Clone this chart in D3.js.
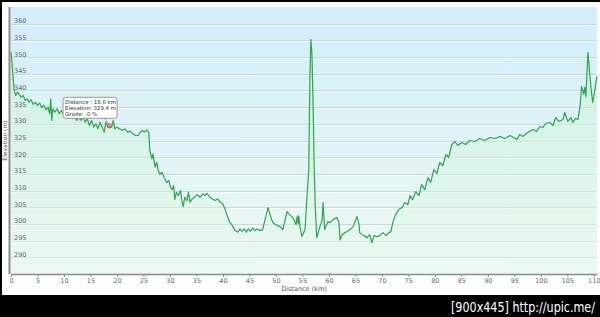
<!DOCTYPE html>
<html>
<head>
<meta charset="utf-8">
<style>
  body { margin: 0; background: #000; }
  svg { display: block; }
</style>
</head>
<body>
<svg width="600" height="317"></svg>
<script src="https://cdn.jsdelivr.net/npm/d3@7"></script>
<script>
// distance along route (km) and elevation (m)
var distKm = [0, 0.3, 0.6, 0.9, 1.2, 1.5, 1.9, 2.3, 2.7, 3.0, 3.4, 3.8, 4.2, 4.6, 5.0, 5.4, 5.8, 6.2, 6.6, 7.0,
  7.3, 7.5, 7.7, 7.9, 8.3, 8.7, 9.1, 9.5, 10.0, 10.4, 10.8, 11.2, 11.6, 12.0, 12.4, 12.8, 13.2, 13.6, 14.0, 14.4,
  14.8, 15.2, 15.6, 16.0, 16.4, 16.8, 17.2, 17.6, 17.9, 18.3, 18.6, 19.0, 19.3, 19.6, 20.0, 20.5, 21.0, 21.5, 22.0, 22.5,
  23.0, 23.5, 24.0, 24.4, 24.8, 25.2, 25.6, 26.0, 26.2, 26.6, 26.8, 27.2, 27.5, 27.8, 28.1, 28.5, 28.9, 29.4, 29.8, 30.1,
  30.4, 30.7, 30.9, 31.2, 31.6, 32.0, 32.3, 32.5, 32.8, 33.2, 33.5, 33.8, 34.2, 34.6, 35.1, 35.7, 36.2, 36.6, 37.0, 37.5,
  38.0, 38.5, 39.0, 39.5, 40.0, 40.5, 40.9, 41.3, 41.8, 42.3, 42.8, 43.2, 43.6, 44.0, 44.4, 44.8, 45.2, 45.6, 46.0, 46.5,
  47.0, 47.5, 48.5, 48.9, 49.4, 50.2, 50.8, 51.3, 52.1, 52.6, 53.2, 53.8, 54.0, 54.2, 54.3, 54.5, 54.9, 55.5, 55.8, 56.2,
  56.4, 56.6, 56.8, 57.0, 57.2, 57.4, 57.7, 58.3, 58.7, 58.9, 59.2, 59.8, 60.2, 60.8, 61.5, 61.9, 62.1, 62.6, 63.4, 64.0,
  64.6, 65.1, 65.3, 65.7, 65.8, 66.6, 67.2, 67.7, 68.1, 68.5, 69.1, 69.6, 70.2, 70.8, 71.3, 71.7, 72.1, 72.6, 73.2, 73.8,
  74.3, 74.9, 75.3, 75.8, 76.4, 77.0, 77.5, 78.1, 78.7, 79.2, 79.8, 80.4, 80.9, 81.5, 82.1, 82.6, 83.2, 83.8, 84.3, 85.1,
  85.8, 86.6, 87.5, 88.5, 89.4, 90.4, 91.3, 92.3, 93.2, 94.2, 95.5, 96.0, 96.6, 97.5, 98.5, 99.2, 99.8, 100.4, 100.9, 101.7,
  102.3, 102.8, 103.4, 104.2, 104.5, 105.1, 105.7, 106.0, 106.6, 107.0, 107.4, 107.7, 108.1, 108.3, 108.5, 108.9, 109.2, 109.6, 109.8, 110.2,
  110.6];
var elevM = [351.5, 346, 340, 338.5, 339.5, 339, 338, 338.5, 337, 337.5, 336.5, 337.2, 335.8, 336.5, 335.5, 336.2, 334.8, 335.6, 334.2, 335,
  333, 337.5, 331, 334.5, 333.5, 334.5, 333, 334, 332.5, 333.5, 332, 333, 331.5, 332.5, 331, 332, 331, 332, 330.5, 331.5,
  329.5, 331, 329, 330, 328.5, 330.5, 329, 327.5, 330.5, 329, 329.4, 329, 331, 328.5, 329, 328.5, 328, 328.5, 327.5, 327.8,
  327, 326.5, 326.5, 327.5, 328, 327.5, 328.2, 327.5, 322, 319.5, 321, 317, 318.5, 316, 314.8, 315.5, 314, 312.4, 313, 311,
  310.3, 311.5, 307.3, 309.5, 308.5, 310, 306.5, 305.2, 308, 307, 309.5, 306.5, 307.5, 308, 308.8, 308, 309, 308.5, 309.2, 308,
  307.5, 307, 307.5, 306.5, 306, 304, 302, 300.5, 299.5, 298, 297.5, 298.5, 297.8, 298.5, 297.5, 298.5, 297.8, 298.8, 298, 298.5,
  298, 298.3, 304.9, 302.8, 300.4, 299.5, 299.2, 298.3, 303.7, 302.8, 301.9, 299.8, 302.2, 300, 302.5, 299.5, 296.2, 298.3, 306.7, 316,
  343, 355.3, 350.8, 337, 319, 306.4, 295.9, 299.2, 301, 306.4, 298.3, 300.7, 300.4, 301.3, 301.9, 300.5, 295.3, 297, 297.7, 298.3,
  299.2, 301.5, 302.2, 299.8, 297.4, 296.5, 295.9, 296.8, 294.4, 296.5, 296.2, 296.5, 297.4, 296.5, 297.4, 297.7, 300.7, 302.8, 304.3, 304.9,
  306.4, 305.8, 308.5, 307.3, 309.7, 308.5, 311.8, 310.3, 313.9, 312.4, 316.3, 315.1, 318.4, 317.5, 320.8, 319.9, 323.8, 324.7, 323.5, 324.4,
  323.8, 325, 324.7, 325.6, 325, 325.9, 325.6, 326.2, 325.6, 326.5, 325.3, 326.8, 326.2, 327.4, 328.3, 327.7, 329.2, 328.9, 330.1, 330.4,
  329.5, 331.9, 330.7, 331.3, 333.4, 330.7, 331.9, 330.4, 331.6, 331.3, 335.2, 341.2, 338.8, 340.9, 338.2, 351.4, 345.4, 338.8, 336.4, 340.3,
  344.2];

var xTicks = [0, 5, 10, 15, 20, 25, 30, 35, 40, 45, 50, 55, 60, 65, 70, 75, 80, 85, 90, 95, 100, 105, 110];
var yTicks = [290, 295, 300, 305, 310, 315, 320, 325, 330, 335, 340, 345, 350, 355, 360];

// hovered point shown in the tooltip
var tipDist = 18.6, tipElev = 329.4;
var tipLines = ["Distance : 18.6 km", "Elevation: 329.4 m", "Grade: -0 %"];

var data = distKm.map(function(d, i) { return {d: d, e: elevM[i]}; });

var svg = d3.select("svg");
var pLeft = 11, pRight = 597, pTop = 7, pBottom = 274;

// white card the chart sits on
svg.append("rect").attr("x", 2).attr("y", 2).attr("width", 598).attr("height", 293).attr("fill", "#fff");

var x = d3.scaleLinear().domain([0, 110.6]).range([pLeft, pRight]);
var y = d3.scaleLinear().domain([285, 365]).range([pBottom, pTop]);

var defs = svg.append("defs");
var bg = defs.append("linearGradient").attr("id", "bg").attr("x1", 0).attr("y1", 0).attr("x2", 0).attr("y2", 1);
bg.append("stop").attr("offset", "0%").attr("stop-color", "#d1eef9");
bg.append("stop").attr("offset", "100%").attr("stop-color", "#eef9f4");
var ag = defs.append("linearGradient").attr("id", "ag").attr("x1", 0).attr("y1", 0).attr("x2", 0).attr("y2", 1);
ag.append("stop").attr("offset", "0%").attr("stop-color", "#c4f0d0").attr("stop-opacity", 0.55);
ag.append("stop").attr("offset", "100%").attr("stop-color", "#e6f8ee").attr("stop-opacity", 0.4);

svg.append("rect").attr("x", pLeft).attr("y", pTop).attr("width", pRight - pLeft).attr("height", pBottom - pTop)
  .attr("fill", "url(#bg)");

// grid
svg.append("g").selectAll("line").data(yTicks).enter().append("line")
  .attr("x1", pLeft).attr("x2", pRight)
  .attr("y1", function(d) { return Math.round(y(d)) + 1.5; }).attr("y2", function(d) { return Math.round(y(d)) + 1.5; })
  .attr("stroke", "#ffffff").attr("stroke-opacity", 0.8);
svg.append("g").selectAll("line").data(yTicks).enter().append("line")
  .attr("x1", pLeft).attr("x2", pRight)
  .attr("y1", function(d) { return Math.round(y(d)) + 0.5; }).attr("y2", function(d) { return Math.round(y(d)) + 0.5; })
  .attr("stroke", "#c5d8dc");

var area = d3.area().x(function(d) { return x(d.d); }).y0(pBottom).y1(function(d) { return y(d.e); });
var line = d3.line().x(function(d) { return x(d.d); }).y(function(d) { return y(d.e); });

svg.append("path").datum(data).attr("fill", "url(#ag)").attr("d", area);
svg.append("path").datum(data).attr("fill", "none").attr("stroke", "#2da64e").attr("stroke-width", 1.2)
  .attr("stroke-linejoin", "round").attr("d", line);

// y labels sit inside the plot, just above their grid line
svg.append("g").selectAll("text").data(yTicks).enter().append("text")
  .attr("x", pLeft + 3).attr("y", function(d) { return y(d) - 0.5; })
  .attr("font-family", "DejaVu Sans").attr("font-size", 6.5).attr("fill", "#666")
  .text(function(d) { return d; });

// axes
svg.append("line").attr("x1", pLeft - 1.5).attr("x2", pLeft - 1.5).attr("y1", pTop).attr("y2", pBottom)
  .attr("stroke", "#8a8a8a").attr("stroke-width", 2);

var xAxis = svg.append("g").attr("transform", "translate(0," + pBottom + ")")
  .call(d3.axisBottom(x).tickValues(xTicks).tickSize(3).tickPadding(1).tickSizeOuter(0));
xAxis.select(".domain").attr("stroke", "#8a8a8a").attr("stroke-width", 1.5);
xAxis.selectAll(".tick line").attr("stroke", "#8a8a8a");
xAxis.selectAll(".tick text").attr("font-family", "DejaVu Sans").attr("font-size", 6.5).attr("fill", "#666");

svg.append("text").attr("x", (pLeft + pRight) / 2).attr("y", 291).attr("text-anchor", "middle")
  .attr("font-family", "DejaVu Sans").attr("font-size", 6.5).attr("fill", "#555").text("Distance  (km)");
svg.append("text").attr("transform", "translate(7," + ((pTop + pBottom) / 2) + ") rotate(-90)").attr("text-anchor", "middle")
  .attr("font-family", "DejaVu Sans").attr("font-size", 6).attr("fill", "#555").text("Elevation (m)");

// tooltip
var mx = x(tipDist), my = y(tipElev);
svg.append("line").attr("x1", mx).attr("y1", my).attr("x2", mx - 5).attr("y2", my - 8).attr("stroke", "#999");
svg.append("rect").attr("x", mx - 46.5).attr("y", my - 28.5).attr("width", 54).attr("height", 21).attr("rx", 2.5)
  .attr("fill", "#fff").attr("stroke", "#9a9a9a");
svg.append("g").selectAll("text").data(tipLines).enter().append("text")
  .attr("x", mx - 44.5).attr("y", function(d, i) { return my - 22 + i * 6.3; })
  .attr("font-family", "DejaVu Sans").attr("font-size", 5.4).attr("fill", "#333")
  .text(function(d) { return d; });
svg.append("circle").attr("cx", mx).attr("cy", my).attr("r", 2).attr("fill", "none").attr("stroke", "#e06050").attr("stroke-width", 1.2);

// watermark strip
svg.append("text").attr("x", 595).attr("y", 312).attr("text-anchor", "end")
  .attr("font-family", "DejaVu Sans").attr("font-size", 14).attr("fill", "#fff")
  .attr("textLength", 144).attr("lengthAdjust", "spacingAndGlyphs")
  .text("[900x445] http://upic.me/");
</script>
</body>
</html>
